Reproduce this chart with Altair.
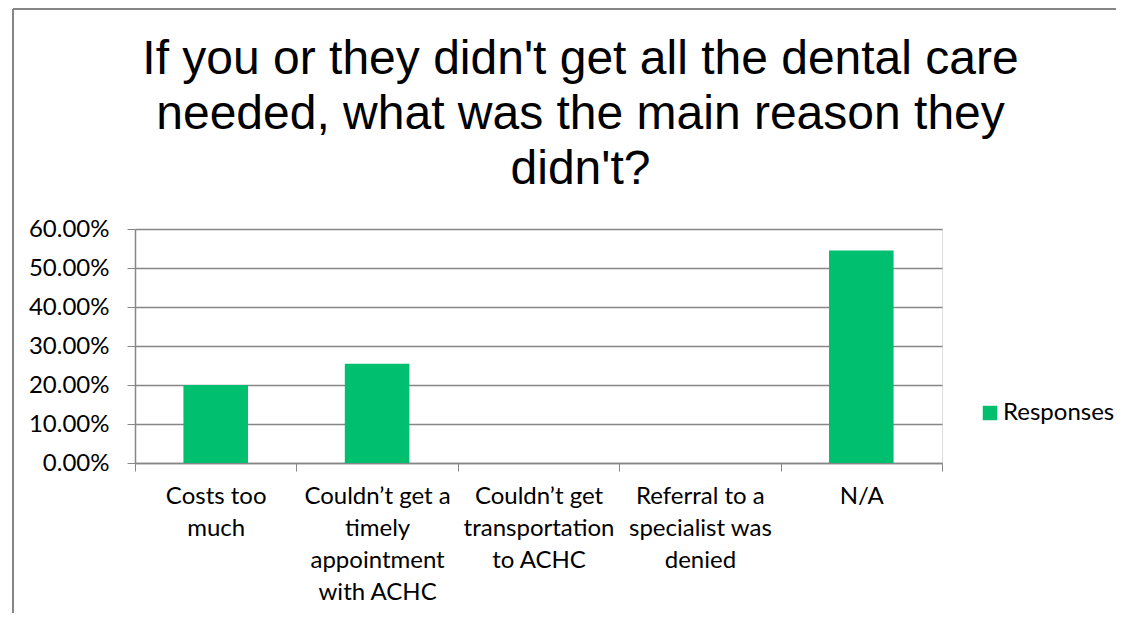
import altair as alt
import pandas as pd
import json

categories = [
    "Costs too much",
    "Couldn’t get a timely appointment with ACHC",
    "Couldn’t get transportation to ACHC",
    "Referral to a specialist was denied",
    "N/A",
]
label_lines = [
    ["Costs too", "much"],
    ["Couldn’t get a", "timely", "appointment", "with ACHC"],
    ["Couldn’t get", "transportation", "to ACHC"],
    ["Referral to a", "specialist was", "denied"],
    ["N/A"],
]
values = [0.20, 0.2545, 0.0, 0.0, 0.545]
series = ["Responses"] * len(categories)
y_ticks = [0.0, 0.1, 0.2, 0.3, 0.4, 0.5, 0.6]
title_lines = [
    "If you or they didn't get all the dental care",
    "needed, what was the main reason they",
    "didn't?",
]

GREEN = "#00BF6F"
GRAY = "#868686"
LABEL_FONT = "Lato"

df = pd.DataFrame({"Reason": categories, "Value": values, "Series": series})

expr = ""
for cat, lines in zip(categories, label_lines):
    expr += f"datum.label == {json.dumps(cat)} ? {json.dumps(lines)} : "
expr += "datum.label"

W, H = 807, 234

bars = alt.Chart(df).mark_bar(width=alt.RelativeBandSize(0.4)).encode(
    x=alt.X(
        "Reason:N",
        sort=categories,
        title=None,
        scale=alt.Scale(paddingInner=0, paddingOuter=0),
        axis=alt.Axis(
            labelExpr=expr,
            labelAngle=0,
            labelAlign="center",
            labelBaseline="top",
            labelFont=LABEL_FONT,
            labelFontSize=24,
            labelLineHeight=32,
            labelColor="#000000",
            labelPadding=13,
            labelLimit=0,
            tickBand="extent",
            tickSize=8,
            tickColor=GRAY,
            domainColor=GRAY,
            domainWidth=1.5,
            grid=False,
        ),
    ),
    y=alt.Y(
        "Value:Q",
        title=None,
        scale=alt.Scale(domain=[0, 0.6], nice=False),
        axis=alt.Axis(
            values=y_ticks,
            format=".2%",
            labelFont=LABEL_FONT,
            labelFontSize=24,
            labelColor="#000000",
            labelPadding=18,
            tickSize=8,
            tickColor=GRAY,
            domainColor=GRAY,
            domainWidth=1.5,
            grid=True,
            gridColor=GRAY,
            gridWidth=1.5,
        ),
    ),
    color=alt.Color(
        "Series:N",
        scale=alt.Scale(domain=["Responses"], range=[GREEN]),
        legend=alt.Legend(
            title=None,
            orient="none",
            legendX=843,
            legendY=172,
            symbolType="square",
            symbolSize=210,
            symbolStrokeWidth=0,
            labelFont=LABEL_FONT,
            labelFontSize=24,
            labelColor="#000000",
            labelOffset=1,
            labelLimit=0,
        ),
    ),
)

border_left = alt.Chart(df).mark_rule(color=GRAY, strokeWidth=1.5).encode(
    x=alt.value(-122), y=alt.value(-220), y2=alt.value(400)
)
border_top = alt.Chart(df).mark_rule(color=GRAY, strokeWidth=1.5).encode(
    x=alt.value(-122), x2=alt.value(1100), y=alt.value(-220)
)

chart = alt.layer(bars, border_left, border_top).properties(
    width=W,
    height=H,
    autosize=alt.AutoSizeParams(type="none"),
    padding={"left": 127, "top": 221, "right": 174, "bottom": 150},
    title=alt.TitleParams(
        text=title_lines,
        font="Liberation Sans",
        fontSize=48,
        fontWeight="normal",
        color="#000000",
        anchor="middle",
        lineHeight=55,
        dx=42,
        offset=-186,
    ),
).configure_view(stroke=None).configure(background="white")

chart.save("out.html", embed_options={"renderer": "svg", "actions": False})
